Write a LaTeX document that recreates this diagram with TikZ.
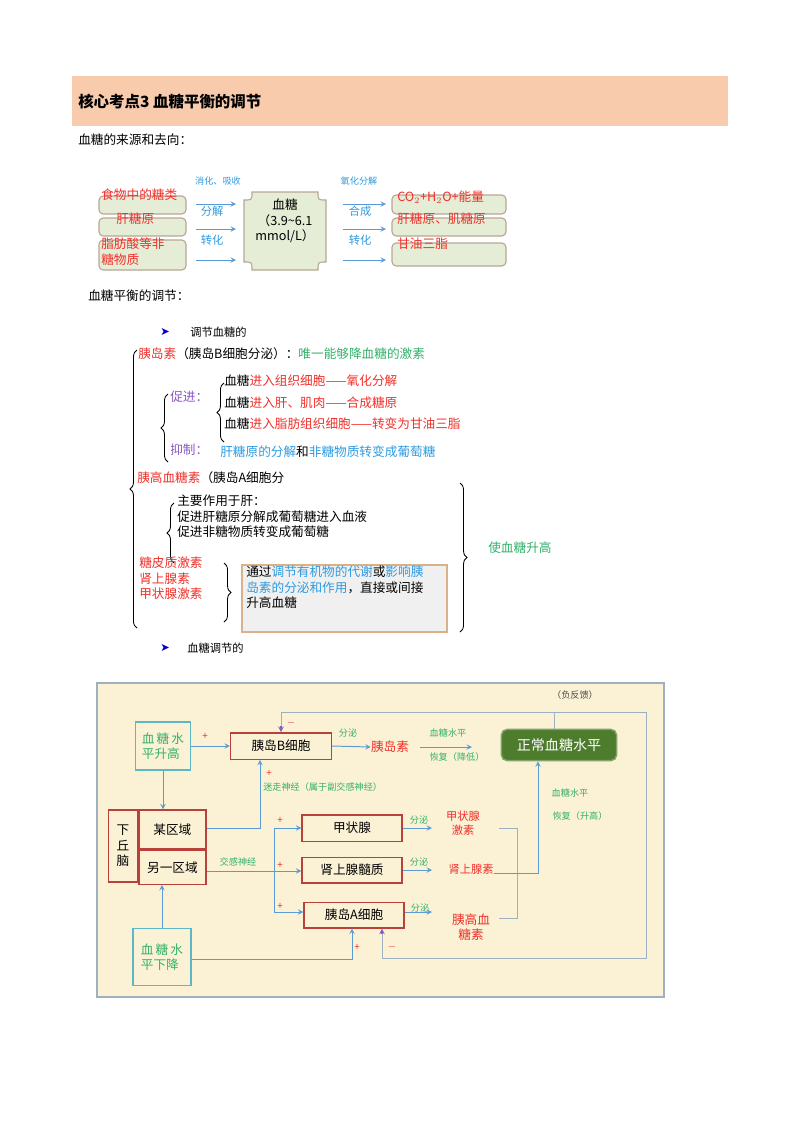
\documentclass[tikz,border=0pt]{standalone}
\usepackage{fontspec}
\setmainfont{Noto Sans CJK SC}
\newfontfamily\symf{DejaVu Sans}
\usetikzlibrary{positioning,decorations.pathreplacing}
\definecolor{hdr}{HTML}{F8CBAD}
\definecolor{boxg}{HTML}{E6EDD6}
\definecolor{boxe}{HTML}{B7A796}
\definecolor{sky}{HTML}{2E9BE0}
\definecolor{grn}{HTML}{33B06A}
\definecolor{rd}{HTML}{F0302A}
\definecolor{pur}{HTML}{8A56C0}
\definecolor{cream}{HTML}{FBF2D6}
\definecolor{frm}{HTML}{9FB0C0}
\definecolor{teal}{HTML}{5BB8C4}
\definecolor{brick}{HTML}{B8423A}
\definecolor{arr}{HTML}{5B9BD5}
\definecolor{dgrn}{HTML}{4D7D2C}
\tikzset{src/.style={draw=boxe,fill=boxg,rounded corners=3pt,line width=0.8pt},
  lbl/.style={inner sep=0pt,anchor=west},
  tiny/.style={inner sep=0pt,font=\fontsize{6.5}{7}\selectfont},
  cell/.style={draw=brick,line width=1pt,fill=cream,inner sep=0pt},
  ink/.style={draw=arr,line width=0.7pt},
  plus/.style={inner sep=0pt,text=rd,font=\fontsize{7}{7}\selectfont},
  brc/.style={decorate,decoration={brace,amplitude=5pt},line width=0.6pt}}
\begin{document}
\begin{tikzpicture}[x=0.025cm,y=-0.025cm,>=stealth,font=\fontsize{9}{11}\selectfont]
\useasboundingbox (0,0) rectangle (800,1132);
% header
\fill[hdr] (72,76) rectangle (728,126);
\node[lbl,font=\fontsize{11}{13}\selectfont\bfseries] (title) at (78,102) {核心考点3\ 血糖平衡的调节};
\node[lbl] (src) at (78,140) {血糖的来源和去向：};
% sources and sinks
\draw[src] (99,196) rectangle (186,214);
\draw[src] (99,218) rectangle (186,236);
\draw[src] (99,240) rectangle (186,270);
\node[lbl,text=rd] (food) at (101,195) {食物中的糖类};
\node[lbl,text=rd] (gly) at (116,219) {肝糖原};
\node[lbl,text=rd,align=left,anchor=north west] (fat) at (101,238) {脂肪酸等非\\糖物质};
\draw[src] (392,195) rectangle (506,214);
\draw[src] (392,218) rectangle (506,236);
\draw[src] (392,243) rectangle (506,266);
\node[lbl,text=rd] (co) at (397,197) {CO$_2$+H$_2$O+能量};
\node[lbl,text=rd] (mus) at (397,219) {肝糖原、肌糖原};
\node[lbl,text=rd] (tg) at (397,244) {甘油三脂};
\draw[fill=boxg,draw=boxe,line width=0.8pt] (252,192) -- (318,192) .. controls (318,200) .. (326,200)
  -- (326,262) .. controls (318,262) .. (318,270) -- (252,270) .. controls (252,262) .. (244,262)
  -- (244,200) .. controls (252,200) .. (252,192) -- cycle;
\node[align=center,inner sep=0pt] (bg) at (285,221) {血糖\\（3.9\textasciitilde6.1\\mmol/L）};
\foreach \y in {204,229,260} {
  \coordinate (l\y) at (196,\y); \coordinate (m\y) at (236,\y);
  \coordinate (r\y) at (343,\y); \coordinate (s\y) at (386,\y);
  \draw[->,ink] (l\y) -- (m\y);
  \draw[->,ink] (r\y) -- (s\y);
}
\node[tiny,text=sky] (t1) at (218,181) {消化、吸收};
\node[tiny,text=sky,font=\fontsize{8}{8}\selectfont] (t2) at (212,211) {分解};
\node[tiny,text=sky,font=\fontsize{8}{8}\selectfont] (t3) at (212,240) {转化};
\node[tiny,text=sky] (t4) at (359,181) {氧化分解};
\node[tiny,text=sky,font=\fontsize{8}{8}\selectfont] (t5) at (360,211) {合成};
\node[tiny,text=sky,font=\fontsize{8}{8}\selectfont] (t6) at (360,240) {转化};
% regulation text
\node[lbl] (reg) at (88,296) {血糖平衡的调节：};
\node[lbl,text=blue!80!black,font=\symf\fontsize{8}{9}\selectfont] (ar1) at (160,332) {➤};
\node[lbl,font=\fontsize{8}{9}\selectfont] (h1) at (190,332) {调节血糖的};
\node[lbl] (ins) at (138,354) {\textcolor{rd}{胰岛素}（胰岛B细胞分泌）：\textcolor{grn}{唯一能够降血糖的激素}};
\draw[brc] (137,628) -- (137,350);
\draw[brc] (168,462) -- (168,394);
\node[lbl,text=pur] (cj) at (170,397) {促进：};
\node[lbl,text=pur] (yz) at (170,450) {抑制：};
\draw[brc] (224,442) -- (224,383);
\node[lbl] (e1) at (224,381) {血糖\textcolor{rd}{进入组织细胞——氧化分解}};
\node[lbl] (e2) at (224,403) {血糖\textcolor{rd}{进入肝、肌肉——合成糖原}};
\node[lbl] (e3) at (224,424) {血糖\textcolor{rd}{进入脂肪组织细胞——转变为甘油三脂}};
\node[lbl] (e4) at (220,452) {\textcolor{sky}{肝糖原的分解}和\textcolor{sky}{非糖物质转变成葡萄糖}};
\node[lbl] (glu) at (137,478) {\textcolor{rd}{胰高血糖素}（胰岛A细胞分};
\draw[brc] (174,563) -- (174,503);
\node[lbl,align=left,anchor=north west] (liv) at (177,495) {主要作用于肝：\\促进肝糖原分解成葡萄糖进入血液\\促进非糖物质转变成葡萄糖};
\node[lbl,text=rd,align=left,anchor=north west] (oth) at (139,557) {糖皮质激素\\肾上腺素\\甲状腺激素};
\draw[brc] (224,563) -- (224,622);
\draw[fill=gray!12,draw=brown!60,line width=1pt] (242,565) rectangle (447,632);
\node[lbl,anchor=north west,align=left] (box) at (246,566)
  {通过\textcolor{sky}{调节有机物的代谢}或\textcolor{sky}{影响胰}\\\textcolor{sky}{岛素的分泌和作用}，直接或间接\\升高血糖};
\draw[brc] (460,483) -- (460,632);
\node[lbl,text=grn] (up) at (488,548) {使血糖升高};
\node[lbl,text=blue!80!black,font=\symf\fontsize{8}{9}\selectfont] (ar2) at (160,648) {➤};
\node[lbl,font=\fontsize{8}{9}\selectfont] (h2) at (187,648) {血糖调节的};
% flowchart
\draw[fill=cream,draw=frm,line width=1.5pt] (97,683) rectangle (664,997);
\node[draw=teal,line width=1pt,inner sep=0pt,align=left,text=grn,
  minimum width=1.38cm,minimum height=1.2cm] (hi) at (163,746) {血\,糖\,水\\平升高};
\node[draw=teal,line width=1pt,inner sep=0pt,align=left,text=grn,
  minimum width=1.45cm,minimum height=1.42cm] (lo) at (162,957) {血\,糖\,水\\平下降};
\node[cell,minimum width=2.52cm,minimum height=0.66cm] (bc) at (281,746) {胰岛B细胞};
\node[cell,minimum width=2.5cm,minimum height=0.66cm] (thy) at (352,828) {甲状腺};
\node[cell,minimum width=2.5cm,minimum height=0.64cm] (adr) at (352,870) {肾上腺髓质};
\node[cell,minimum width=2.5cm,minimum height=0.64cm] (ac) at (354,915) {胰岛A细胞};
\node[cell,minimum width=0.72cm,minimum height=1.8cm,align=center] (hyp) at (123,846) {下\\丘\\脑};
\node[cell,minimum width=1.68cm,minimum height=0.97cm,anchor=north west] (ra) at (hyp.north east) {某区域};
\node[cell,minimum width=1.68cm,minimum height=0.85cm,anchor=north west] (rb) at (ra.south west) {另一区域};
\node[fill=dgrn,draw=dgrn!70,line width=1pt,rounded corners=4pt,text=white,minimum width=2.88cm,
  minimum height=0.78cm,font=\fontsize{10}{11}\selectfont] (ok) at (559,745) {正常血糖水平};
\node[text=rd,inner sep=0pt] (insl) at (390,747) {胰岛素};
\node[text=rd,inner sep=0pt,align=center,font=\fontsize{8}{10}\selectfont] (thh) at (463,823) {甲状腺\\激素};
\node[text=rd,inner sep=0pt,font=\fontsize{8}{10}\selectfont] (adh) at (471,869) {肾上腺素};
\node[text=rd,inner sep=0pt,align=center] (gch) at (471,927) {胰高血\\糖素};
\node[tiny,text=grn] (fm1) at (348,733) {分泌};
\node[tiny,text=grn] (fm2) at (419,820) {分泌};
\node[tiny,text=grn] (fm3) at (419,862) {分泌};
\node[tiny,text=grn] (fm4) at (420,908) {分泌};
\node[tiny,text=grn] (rs1) at (448,733) {血糖水平};
\node[tiny,text=grn] (rs2) at (457,757) {恢复（降低）};
\node[tiny,text=grn] (rs3) at (570,793) {血糖水平};
\node[tiny,text=grn] (rs4) at (580,816) {恢复（升高）};
\node[tiny,text=grn,anchor=west] (vag) at (263,787) {迷走神经（属于副交感神经）};
\node[tiny,text=grn] (sym) at (238,862) {交感神经};
\node[tiny,text=black!70] (neg) at (575,695) {（负反馈）};
\coordinate (k1) at (554,712);
\coordinate (k2) at (646,958);
\draw[ink,draw=frm] (ok.north -| k1) -- (k1) -- (k1 -| bc.north) -- ([yshift=3pt]bc.north);
\draw[-{>[scale=1.4]},pur,line width=0.8pt] ([yshift=4pt]bc.north) -- (bc.north);
\draw[ink,draw=frm] (k1) -- (k1 -| k2) -- (k2) -- (382,958) -- ([yshift=-3pt]ac.south -| 382,0);
\draw[-{>[scale=1.4]},pur,line width=0.8pt] ([yshift=-4pt]ac.south -| 382,0) -- (ac.south -| 382,0);
\node[plus] (m1) at (291,723) {$-$};
\node[plus] (m2) at (392,947) {$-$};
\draw[->,ink] (hi.east) -- (bc.west);
\node[plus] (p1) at (205,736) {+};
\draw[->,ink] (bc.east) -- (insl.west);
\draw[->,ink] (420,747) -- (472,747);
\draw[->,ink] (hi.south) -- (ra.north -| hi.south);
\draw[->,ink] (lo.north) -- (rb.south -| lo.north);
\draw[->,ink] (ra.east |- 0,828) -- (260,828) -- (bc.south -| 260,0);
\node[plus] (p2) at (269,773) {+};
\draw[->,ink] (rb.east |- 0,871) -- (adr.west |- 0,871);
\draw[->,ink] (274,871) -- (274,828) -- (thy.west);
\draw[->,ink] (274,871) -- (274,912) -- (ac.west |- 0,912);
\node[plus] (p3) at (280,820) {+};
\node[plus] (p4) at (280,865) {+};
\node[plus] (p5) at (280,906) {+};
\draw[->,ink] (lo.east |- 0,959) -- (352,959) -- (ac.south -| 352,0);
\node[plus] (p6) at (357,947) {+};
\draw[->,ink] (thy.east) -- (432,828);
\draw[->,ink] (adr.east |- 0,870) -- (432,870);
\draw[->,ink] (ac.east |- 0,912) -- (432,912);
\draw[ink,draw=frm] (499,828) -- (517,828) -- (517,918) -- (499,918);
\draw[->,ink] (adh.east |- 0,873) -- (538,873) -- (ok.south -| 538,0);
\end{tikzpicture}
\end{document}
